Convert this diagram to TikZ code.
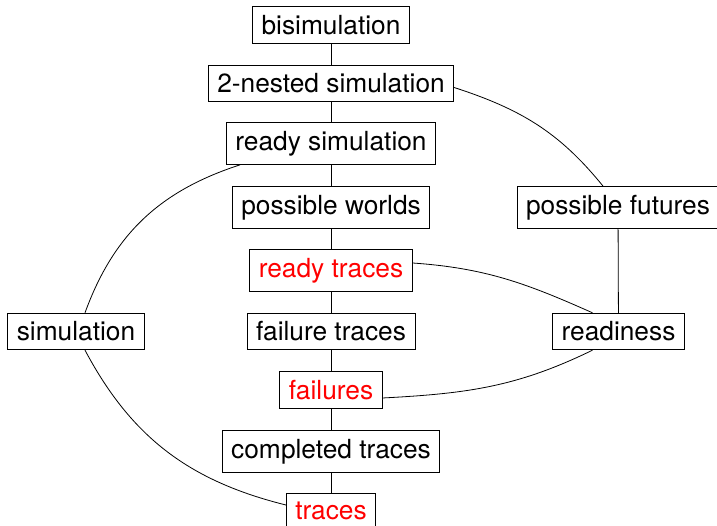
\documentclass[tikz,border=0pt]{standalone}
\usepackage{fontspec}
\setmainfont{TeX Gyre Heros}
\begin{document}
\begin{tikzpicture}[x=1pt,y=1pt,
  box/.style={draw, line width=0.8pt, inner xsep=9pt, inner ysep=8.5pt,
    font=\fontsize{26.3}{30}\selectfont, text=black},
  hl/.style={text=red},
  conn/.style={line width=0.8pt}]
\useasboundingbox (0,0) rectangle (717,526);
\clip (0,0) rectangle (717,526);
\node[box] (bis)  at (331,526-25)    {bisimulation};
\node[box] (nest) at (331,526-83.5)  {2-nested simulation};
\node[box] (rsim) at (331,526-143.5) {ready simulation};
\node[box] (pw)   at (331,526-207.5) {possible worlds};
\node[box,hl] (rt) at (331,526-270.5) {ready traces};
\node[box] (ft)   at (331,526-331.5) {failure traces};
\node[box,hl] (fl) at (331,526-390)  {failures};
\node[box] (ct)   at (331,526-451.5) {completed traces};
\node[box,hl] (tr) at (331,526-511)  {traces};
\node[box] (sim)  at (76,526-331.5)  {simulation};
\node[box] (pf)   at (618,526-207.5) {possible futures};
\node[box] (rd)   at (618.5,526-331.5) {readiness};
\draw[conn] (bis) -- (nest);
\draw[conn] (nest) -- (rsim);
\draw[conn] (rsim) -- (pw);
\draw[conn] (pw) -- (rt);
\draw[conn] (rt) -- (ft);
\draw[conn] (ft) -- (fl);
\draw[conn] (fl) -- (ct);
\draw[conn] (ct) -- (tr);
\draw[conn] (pf) -- (rd);
\draw[conn] ([yshift=-4pt]nest.east) to[out=-18,in=129] ([xshift=-15pt]pf.north);
\draw[conn] ([xshift=14pt]rsim.south west) to[out=198,in=70] ([xshift=9pt]sim.north);
\draw[conn] ([xshift=9pt]sim.south) to[out=-62,in=166] ([yshift=6pt]tr.west);
\draw[conn] ([yshift=7.5pt]rt.east) to[out=-4,in=156] ([xshift=-26pt]rd.north);
\draw[conn] ([xshift=-26pt]rd.south) to[out=206,in=3] ([yshift=-8pt]fl.east);
\end{tikzpicture}
\end{document}
